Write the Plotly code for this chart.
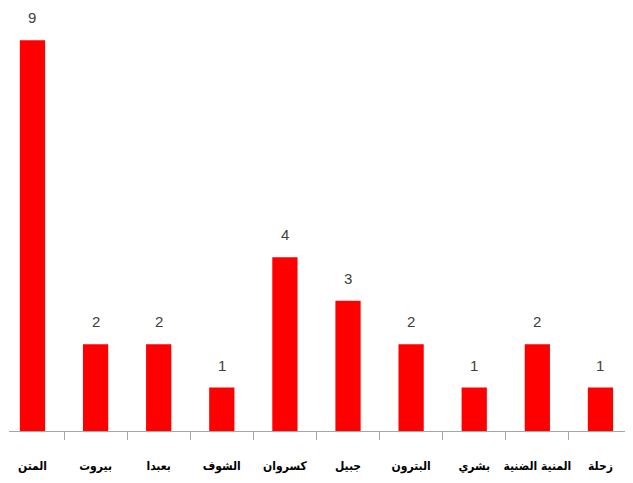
import plotly.graph_objects as go

categories = ["المتن", "بيروت", "بعبدا", "الشوف", "كسروان", "جبيل", "البترون", "بشري", "المنية الضنية", "زحلة"]
values = [9, 2, 2, 1, 4, 3, 2, 1, 2, 1]

fig = go.Figure(go.Bar(
    x=categories, y=values,
    marker=dict(color="#ff0000", line=dict(width=0)),
    cliponaxis=False, hoverinfo="x+y",
))

for c, v in zip(categories, values):
    fig.add_annotation(
        x=c, y=v, text=str(v), showarrow=False,
        yanchor="bottom", yshift=12,
        font=dict(family="Liberation Sans Narrow, Arial Narrow, sans-serif", size=15, color="#404040"),
    )

fig.update_layout(
    width=625, height=475,
    margin=dict(l=1, r=1, t=0, b=52),
    plot_bgcolor="white", paper_bgcolor="white",
    bargap=0.6, showlegend=False,
    xaxis=dict(
        type="category", range=[-0.372, 9.5], automargin=False,
        showline=True, linecolor="#a6a6a6", linewidth=1,
        ticks="outside", tickson="boundaries", ticklen=8, tickcolor="#a6a6a6",
        tickfont=dict(family="DejaVu Sans Condensed, sans-serif", size=12, color="black", weight="bold"),
        tickangle=0, ticklabelstandoff=24, showgrid=False,
    ),
    yaxis=dict(range=[0, 9.74], visible=False, showgrid=False, zeroline=False, automargin=False),
)

fig.write_html("out.html")
